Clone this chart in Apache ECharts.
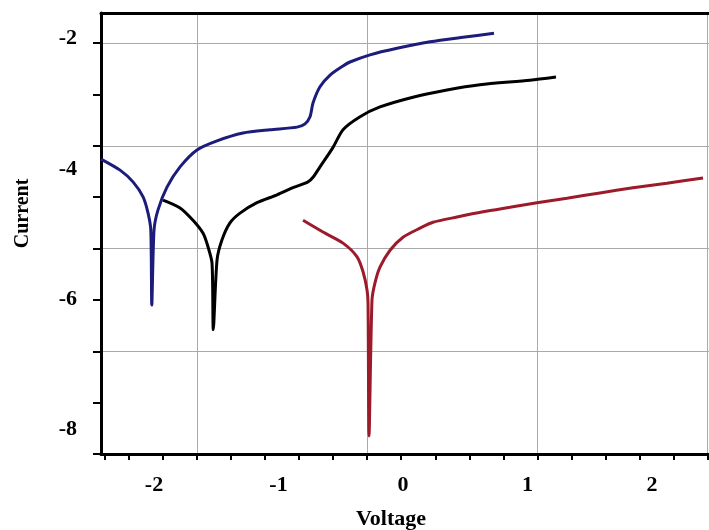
<!DOCTYPE html>
<html lang="en">
  <head>
    <meta charset="UTF-8" />
    <title>Voltage vs Current</title>
    <script src="https://cdn.jsdelivr.net/npm/echarts@6/dist/echarts.min.js"></script>
    <style>
      html, body { margin: 0; padding: 0; background: #fff; }
    </style>
  </head>
  <body>
    <div id="main" style="width: 709px; height: 530px"></div>
    <script>
      // blue curve
      const blueV = [-2.426, -2.273, -2.169, -2.088, -2.048, -2.026, -2.018, -2.0, -1.968, -1.896, -1.791, -1.655, -1.494, -1.285, -1.068, -0.851, -0.787, -0.747, -0.723, -0.667, -0.586, -0.482, -0.426, -0.265, -0.048, 0.217, 0.482, 0.731];
      const blueI = [-3.85, -4.02, -4.2, -4.43, -4.68, -4.94, -6.09, -4.94, -4.63, -4.28, -3.97, -3.71, -3.57, -3.45, -3.4, -3.36, -3.31, -3.2, -2.99, -2.74, -2.56, -2.42, -2.36, -2.25, -2.15, -2.05, -1.98, -1.92];
      // black curve
      const blackV = [-1.928, -1.791, -1.687, -1.606, -1.566, -1.534, -1.524, -1.494, -1.454, -1.39, -1.309, -1.173, -1.012, -0.884, -0.763, -0.723, -0.667, -0.562, -0.482, -0.345, -0.185, 0.08, 0.353, 0.618, 1.02, 1.229];
      const blackI = [-4.48, -4.6, -4.79, -4.99, -5.2, -5.45, -6.47, -5.4, -5.09, -4.83, -4.68, -4.52, -4.4, -4.29, -4.2, -4.13, -3.97, -3.67, -3.4, -3.2, -3.05, -2.9, -2.79, -2.71, -2.64, -2.59];
      // red curve
      const redV = [-0.803, -0.643, -0.482, -0.369, -0.321, -0.289, -0.281, -0.273, -0.249, -0.225, -0.185, -0.104, 0, 0.137, 0.241, 0.434, 0.643, 0.859, 1.076, 1.317, 1.582, 1.847, 2.12, 2.41];
      const redI = [-4.79, -4.97, -5.14, -5.35, -5.58, -5.86, -6.06, -8.1, -6.01, -5.75, -5.51, -5.25, -5.05, -4.91, -4.82, -4.74, -4.66, -4.59, -4.52, -4.45, -4.37, -4.29, -4.22, -4.14];

      const xLabels = [-2, -1, 0, 1, 2];
      const yLabels = [-2, -4, -6, -8];
      // minor tick marks and grid lines (in tick steps)
      const xTicks = [-2.7, -2, -1, 0, 1, 2, 3, 4, 5, 6, 7, 8, 9, 10, 11, 12, 13, 14, 15];
      const xGrid = [0, 5, 10, 15];
      const yTicks = [0, 1, 2, 3, 4, 5, 6, 7, 8];
      const yGrid = [2, 4, 6, 8];

      const zip = (a, b) => a.map((v, i) => [v, b[i]]);
      const font = { fontFamily: "Liberation Serif", fontWeight: "bold", color: "#000" };
      const blackLine = { color: "#000", width: 3 };
      const hidden = { show: false };
      const noLine = { show: false, onZero: false };

      function line(name, xs, ys, color) {
        return {
          name: name,
          type: "line",
          data: zip(xs, ys),
          showSymbol: false,
          smooth: 0.25,
          lineStyle: { color: color, width: 3 },
          itemStyle: { color: color },
          z: 5,
        };
      }

      const chart = echarts.init(document.getElementById("main"));
      chart.setOption({
        animation: false,
        backgroundColor: "#fff",
        grid: { left: 101, right: 0, top: 13, bottom: 76, outerBoundsMode: "none" },
        xAxis: [
          {
            type: "value",
            min: -2.426,
            max: 2.458,
            position: "bottom",
            name: "Voltage",
            nameLocation: "middle",
            nameGap: 54,
            nameTextStyle: Object.assign({ fontSize: 22, padding: [0, 28, 0, 0] }, font),
            axisLine: { show: true, onZero: false, lineStyle: blackLine },
            axisTick: hidden,
            splitLine: hidden,
            axisLabel: Object.assign({ customValues: xLabels, fontSize: 22, margin: 20 }, font),
          },
          {
            type: "value",
            min: -2.82,
            max: 15.041,
            position: "bottom",
            axisLine: noLine,
            axisLabel: hidden,
            splitLine: hidden,
            axisTick: { show: true, customValues: xTicks, length: 6, lineStyle: { color: "#000", width: 2 } },
          },
          {
            type: "value",
            min: -2.82,
            max: 15.041,
            position: "bottom",
            axisLine: noLine,
            axisLabel: hidden,
            axisTick: { show: false, customValues: xGrid },
            splitLine: { show: true, lineStyle: { color: "#aaaaaa", width: 1 } },
          },
          {
            type: "value",
            min: 0,
            max: 1,
            position: "top",
            axisLine: { show: true, onZero: false, lineStyle: blackLine },
            axisTick: hidden,
            axisLabel: hidden,
            splitLine: hidden,
          },
        ],
        yAxis: [
          {
            type: "value",
            min: -8.377,
            max: -1.608,
            position: "left",
            name: "Current",
            nameLocation: "middle",
            nameGap: 68,
            nameRotate: 90,
            nameTextStyle: Object.assign({ fontSize: 20, padding: [0, 0, 0, 40] }, font),
            axisLine: { show: true, onZero: false, lineStyle: blackLine },
            axisTick: hidden,
            splitLine: hidden,
            axisLabel: Object.assign({ customValues: yLabels, fontSize: 22, margin: 24 }, font),
          },
          {
            type: "value",
            min: 0,
            max: 8.584,
            position: "left",
            axisLine: noLine,
            axisLabel: hidden,
            splitLine: hidden,
            axisTick: { show: true, customValues: yTicks, length: 8, lineStyle: { color: "#000", width: 2 } },
          },
          {
            type: "value",
            min: 0,
            max: 8.584,
            position: "left",
            axisLine: noLine,
            axisLabel: hidden,
            axisTick: { show: false, customValues: yGrid },
            splitLine: { show: true, lineStyle: { color: "#aaaaaa", width: 1 } },
          },
        ],
        series: [
          line("blue", blueV, blueI, "#1c1c7a"),
          line("black", blackV, blackI, "#000000"),
          line("red", redV, redI, "#9c1a2a"),
        ],
      });
    </script>
  </body>
</html>
